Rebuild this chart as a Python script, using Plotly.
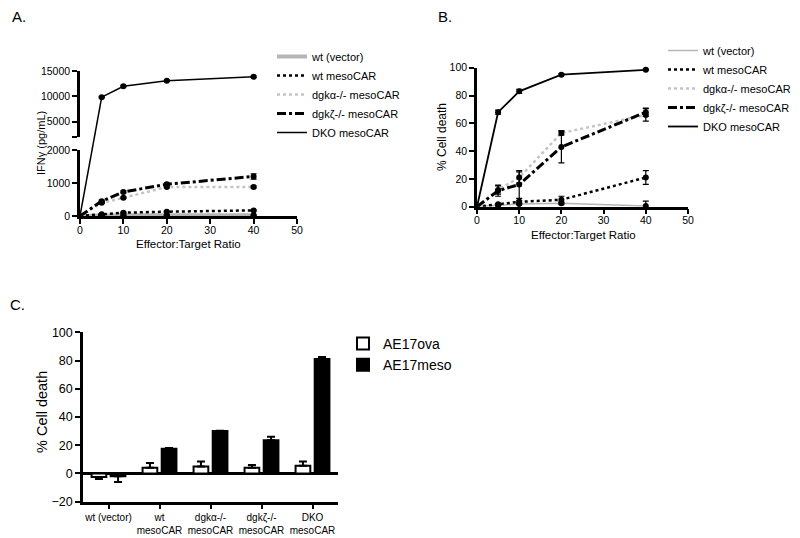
import plotly.graph_objects as go

# page shows the figure with an 8px body margin -> figure is 792x530
OFF = 8
W, H = 800 - OFF, 538 - OFF
FONT = "Liberation Sans, Arial, sans-serif"

# ---------------- data ----------------
ratios = [0, 5, 10, 20, 40]
series_names = ["wt (vector)", "wt mesoCAR", "dgk\u03b1-/- mesoCAR", "dgk\u03b6-/- mesoCAR", "DKO mesoCAR"]

# Panel A: IFN-gamma (pg/mL)
ifn_wt_vector = [0, 20, 20, 25, 25]
ifn_wt_meso = [0, 50, 100, 130, 170]
ifn_dgka = [0, 400, 550, 880, 880]
ifn_dgkz = [0, 450, 730, 960, 1200]
ifn_dko = [0, 9850, 12000, 13080, 13850]
ifn_wt_vector_err = [0, 10, 10, 10, 10]
ifn_wt_meso_err = [0, 10, 15, 15, 20]
ifn_dgka_err = [0, 20, 20, 30, 30]
ifn_dgkz_err = [0, 30, 30, 40, 80]
ifn_dko_err = [0, 150, 150, 150, 150]

# Panel B: % cell death
kill_wt_vector = [0, 1, 2, 2.5, 0.5]
kill_wt_meso = [0, 1.8, 3.5, 5, 21]
kill_dgka = [0, 12, 21, 53, 66]
kill_dgkz = [0, 11.5, 16, 43, 68]
kill_dko = [0, 68, 83, 95, 98.5]
kill_wt_vector_err = [0, 0.5, 0.5, 1, 3.5]
kill_wt_meso_err = [0, 0.5, 1, 2.5, 5]
kill_dgka_err = [0, 3, 4, 1.5, 4.5]
kill_dgkz_err = [0, 4, 10, 11.5, 3]
kill_dko_err = [0, 1.5, 1.5, 0.8, 0.5]

# Panel C: bar chart
groups = ["wt (vector)", "wt<br>mesoCAR", "dgk\u03b1-/-<br>mesoCAR", "dgk\u03b6-/-<br>mesoCAR", "DKO<br>mesoCAR"]
ae17ova = [-2.5, 4, 5, 4, 5.5]
ae17ova_err = [1.5, 3.5, 3.5, 2, 3]
ae17meso = [-2, 17.5, 30, 23.5, 81]
ae17meso_err = [4, 0.5, 0.3, 2.5, 1.5]

# ---------------- helpers (reference-window pixels -> paper) ----------------
def px(x):
    return (x - OFF) / W

def py(y):
    return 1 - (y - OFF) / H

styles = [
    dict(color="#b5b5b5", dash="solid"),
    dict(color="black", dash="dot"),
    dict(color="#c4c4c4", dash="dot"),
    dict(color="black", dash="dashdot"),
    dict(color="black", dash="solid"),
]
widthsA = [4, 2.5, 2.5, 3, 1.5]
widthsB = [1.5, 2.5, 2.5, 3, 1.8]

fig = go.Figure()

# ---------- Panel A (broken axis) ----------
A_low = [py(216), py(150)]
A_up = [py(137), py(71)]
A_low_range = [0, 2000]
A_up_range = [2000, 15000]
# connector axis spanning both parts (for the DKO segment crossing the break)
A_conn_dom = [A_low[0], A_up[1]]
v = ifn_dko[1]
paper_v = A_up[0] + (v - A_up_range[0]) / (A_up_range[1] - A_up_range[0]) * (A_up[1] - A_up[0])
conn_top = v * (A_conn_dom[1] - A_conn_dom[0]) / (paper_v - A_conn_dom[0])

A_vals = [ifn_wt_vector, ifn_wt_meso, ifn_dgka, ifn_dgkz]
A_errs = [ifn_wt_vector_err, ifn_wt_meso_err, ifn_dgka_err, ifn_dgkz_err]
for i, (vals, errs) in enumerate(zip(A_vals, A_errs)):
    fig.add_trace(go.Scatter(x=ratios, y=vals, mode="lines", name=series_names[i],
                             line=dict(color=styles[i]["color"], dash=styles[i]["dash"], width=widthsA[i]),
                             xaxis="x", yaxis="y", legend="legend"))
for i, (vals, errs) in enumerate(zip(A_vals, A_errs)):
    fig.add_trace(go.Scatter(x=ratios[1:], y=vals[1:], mode="markers", showlegend=False,
                             marker=dict(color="black", size=6),
                             error_y=dict(type="data", array=errs[1:], color="black", thickness=1.2, width=3),
                             xaxis="x", yaxis="y", cliponaxis=False))
# DKO: upper part
fig.add_trace(go.Scatter(x=ratios[1:], y=ifn_dko[1:], mode="lines", name=series_names[4],
                         line=dict(color="black", width=widthsA[4]),
                         xaxis="x", yaxis="y2", legend="legend"))
fig.add_trace(go.Scatter(x=ratios[1:], y=ifn_dko[1:], mode="markers", showlegend=False,
                         marker=dict(color="black", size=6),
                         error_y=dict(type="data", array=ifn_dko_err[1:], color="black", thickness=1.2, width=3),
                         xaxis="x", yaxis="y2", cliponaxis=False))
# DKO: segment crossing the break
fig.add_trace(go.Scatter(x=ratios[:2], y=ifn_dko[:2], mode="lines", showlegend=False,
                         line=dict(color="black", width=widthsA[4]),
                         xaxis="x", yaxis="y3"))

# ---------- Panel B ----------
B_vals = [kill_wt_vector, kill_wt_meso, kill_dgka, kill_dgkz, kill_dko]
B_errs = [kill_wt_vector_err, kill_wt_meso_err, kill_dgka_err, kill_dgkz_err, kill_dko_err]
for i, vals in enumerate(B_vals):
    fig.add_trace(go.Scatter(x=ratios, y=vals, mode="lines", name=series_names[i],
                             line=dict(color=styles[i]["color"], dash=styles[i]["dash"], width=widthsB[i]),
                             xaxis="x2", yaxis="y4", legend="legend2"))
for i, (vals, errs) in enumerate(zip(B_vals, B_errs)):
    fig.add_trace(go.Scatter(x=ratios[1:], y=vals[1:], mode="markers", showlegend=False,
                             marker=dict(color="black", size=6),
                             error_y=dict(type="data", array=errs[1:], color="black", thickness=1.2, width=3),
                             xaxis="x2", yaxis="y4", cliponaxis=False))

# ---------- Panel C ----------
def one_sided(vals, errs):
    up = [e if v >= 0 else 0 for v, e in zip(vals, errs)]
    dn = [e if v < 0 else 0 for v, e in zip(vals, errs)]
    return up, dn

up, dn = one_sided(ae17ova, ae17ova_err)
fig.add_trace(go.Bar(x=groups, y=ae17ova, name="AE17ova",
                     marker=dict(color="white", line=dict(color="black", width=2)),
                     error_y=dict(type="data", symmetric=False, array=up, arrayminus=dn,
                                  color="black", thickness=2, width=4),
                     xaxis="x3", yaxis="y5", legend="legend3"))
up, dn = one_sided(ae17meso, ae17meso_err)
fig.add_trace(go.Bar(x=groups, y=ae17meso, name="AE17meso",
                     marker=dict(color="black", line=dict(color="black", width=2)),
                     error_y=dict(type="data", symmetric=False, array=up, arrayminus=dn,
                                  color="black", thickness=2, width=4),
                     xaxis="x3", yaxis="y5", legend="legend3"))

# ---------- axes ----------
axis_common = dict(showline=True, linecolor="black", linewidth=2.5, ticks="outside",
                   ticklen=5, tickwidth=2, tickcolor="black", showgrid=False, zeroline=False,
                   tickfont=dict(family=FONT, size=10.5, color="black"))

layout = dict(
    width=W, height=H, margin=dict(l=0, r=0, t=0, b=0, autoexpand=False),
    paper_bgcolor="white", plot_bgcolor="rgba(0,0,0,0)",
    font=dict(family=FONT, color="black"),
    barmode="group", bargap=0.25, bargroupgap=0.23,
    xaxis=dict(axis_common, domain=[px(80), px(297)], range=[0, 50], tickvals=[0, 10, 20, 30, 40, 50],
               anchor="y", ticklabelstandoff=-2),
    yaxis=dict(axis_common, domain=A_low, range=A_low_range, tickvals=[0, 1000, 2000], anchor="x"),
    yaxis2=dict(axis_common, domain=A_up, range=A_up_range, tickvals=[2000, 5000, 10000, 15000],
                ticktext=["", "5000", "10000", "15000"], anchor="x"),
    yaxis3=dict(domain=A_conn_dom, range=[0, conn_top], visible=False, anchor="x"),
    xaxis2=dict(axis_common, domain=[px(477), px(688)], range=[0, 50], tickvals=[0, 10, 20, 30, 40, 50],
                anchor="y4", ticklabelstandoff=-3),
    yaxis4=dict(axis_common, domain=[py(206.7), py(67.7)], range=[0, 100], tickvals=[0, 20, 40, 60, 80, 100],
                anchor="x2"),
    xaxis3=dict(axis_common, domain=[px(83), px(338)], range=[-0.5, 4.5], anchor="y5",
                tickfont=dict(family=FONT, size=10, color="black")),
    yaxis5=dict(axis_common, domain=[py(501.7), py(332.3)], range=[-20, 100],
                tickvals=[-20, 0, 20, 40, 60, 80, 100], anchor="x3",
                zeroline=True, zerolinecolor="black", zerolinewidth=2.5,
                tickfont=dict(family=FONT, size=12.5, color="black")),
    legend=dict(x=px(272), y=py(42), xanchor="left", yanchor="top", bgcolor="rgba(0,0,0,0)",
                font=dict(family=FONT, size=11, color="black"), tracegroupgap=0),
    legend2=dict(x=px(663), y=py(36), xanchor="left", yanchor="top", bgcolor="rgba(0,0,0,0)",
                 font=dict(family=FONT, size=11, color="black"), tracegroupgap=0),
    legend3=dict(x=px(343), y=py(328), xanchor="left", yanchor="top", bgcolor="rgba(0,0,0,0)",
                 font=dict(family=FONT, size=14, color="black"), tracegroupgap=0),
)
fig.update_layout(**layout)

def ann(text, x, y, size, angle=0, xanchor="center"):
    fig.add_annotation(text=text, x=px(x), y=py(y), xref="paper", yref="paper", showarrow=False,
                       xanchor=xanchor, yanchor="middle", textangle=angle,
                       font=dict(family=FONT, size=size, color="black"))

ann("A.", 10, 17, 15, xanchor="left")
ann("B.", 436, 17, 15, xanchor="left")
ann("C.", 8, 304, 15, xanchor="left")
ann("Effector:Target Ratio", 188, 244, 11.5)
ann("Effector:Target Ratio", 583, 235, 11.5)
ann("IFN\u03b3 (pg/mL)", 41, 143, 11, angle=-90)
ann("% Cell death", 442, 137, 12, angle=-90)
ann("% Cell death", 42, 412, 14.5, angle=-90)

fig.write_html("out.html")
